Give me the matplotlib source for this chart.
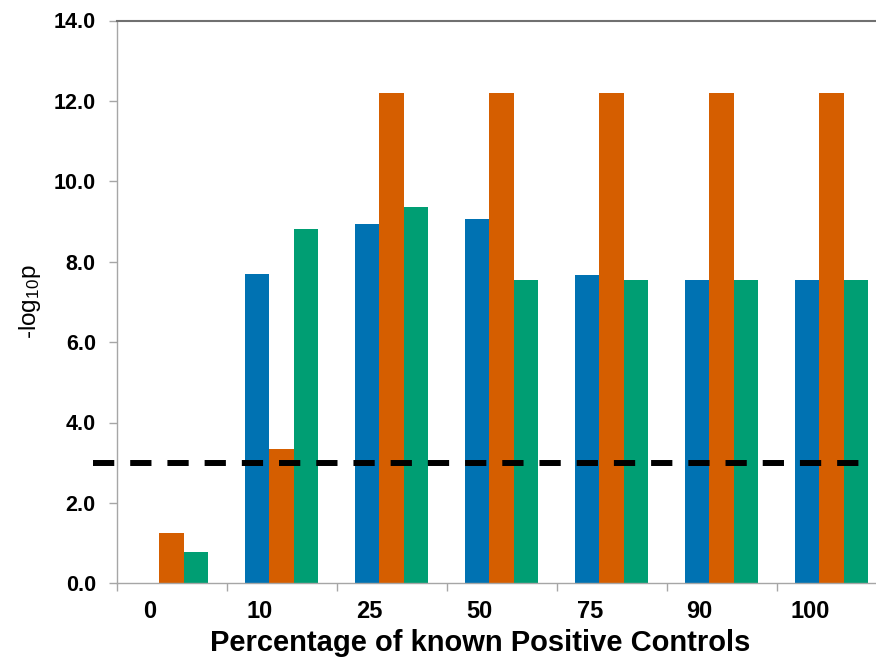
import matplotlib
matplotlib.use("Agg")
import matplotlib.pyplot as plt
import matplotlib.transforms as mtransforms
import numpy as np

plt.rcParams['font.family'] = ['Liberation Sans', 'DejaVu Sans']
plt.rcParams['mathtext.default'] = 'regular'

categories = ['0', '10', '25', '50', '75', '90', '100']
series_blue = [0.0, 7.69, 8.94, 9.05, 7.68, 7.54, 7.54]
series_orange = [1.25, 3.33, 12.19, 12.19, 12.19, 12.19, 12.19]
series_green = [0.79, 8.82, 9.36, 7.54, 7.54, 7.54, 7.54]
threshold = 3.0
y_ticks = [0, 2, 4, 6, 8, 10, 12, 14]

colors = ['#0072B2', '#D55E00', '#009E73']

fig = plt.figure(figsize=(8.76, 6.62), dpi=100)
ax = fig.add_axes([116.7 / 876, (662 - 583.3) / 662, 770 / 876, 562.8 / 662])

x = np.arange(len(categories))
w = 0.2227
for i, (vals, c) in enumerate(zip([series_blue, series_orange, series_green], colors)):
    ax.bar(x + (i - 1) * w, vals, width=w, color=c, linewidth=0, zorder=2)

# threshold line, starts a bit left of the y axis like the original
ax.plot([-0.713, 6.273], [threshold, threshold], color='black', linewidth=4.3,
        linestyle=(0, (3.56, 2.67)), dash_capstyle='butt', clip_on=False, zorder=3)

ax.set_xlim(-0.5, len(categories) - 0.5)
ax.set_ylim(0, 14)
ax.set_yticks(y_ticks)
ax.set_yticklabels([f"{v:.1f}" for v in y_ticks], fontsize=15.5, fontweight='bold')
ax.set_xticks(x)
ax.set_xticklabels(categories, fontsize=17, fontweight='bold')
ax.set_xticks(np.arange(len(categories) + 1) - 0.5, minor=True)
ax.tick_params(axis='x', which='major', length=0, pad=12)
ax.tick_params(axis='x', which='minor', length=6, width=1, color='#A6A6A6', direction='out')
ax.tick_params(axis='y', length=6, width=1, color='#A6A6A6', direction='out', pad=9)

# category labels sit a little left of the group centres
shift = mtransforms.ScaledTranslation(-22 / 100, 0, fig.dpi_scale_trans)
for lab in ax.get_xticklabels():
    lab.set_transform(lab.get_transform() + shift)

for s in ['left', 'bottom']:
    ax.spines[s].set_color('#A6A6A6')
    ax.spines[s].set_linewidth(1)
ax.spines['top'].set_color('#707070')
ax.spines['top'].set_linewidth(1.5)
ax.spines['right'].set_visible(False)

ax.set_xlabel('Percentage of known Positive Controls', fontsize=21, fontweight='bold')
ax.xaxis.set_label_coords(0.472, -0.082)
ax.set_ylabel(r'-log$_{10}$p', fontsize=17.5, labelpad=8)

fig.savefig('out.png', dpi=100)
